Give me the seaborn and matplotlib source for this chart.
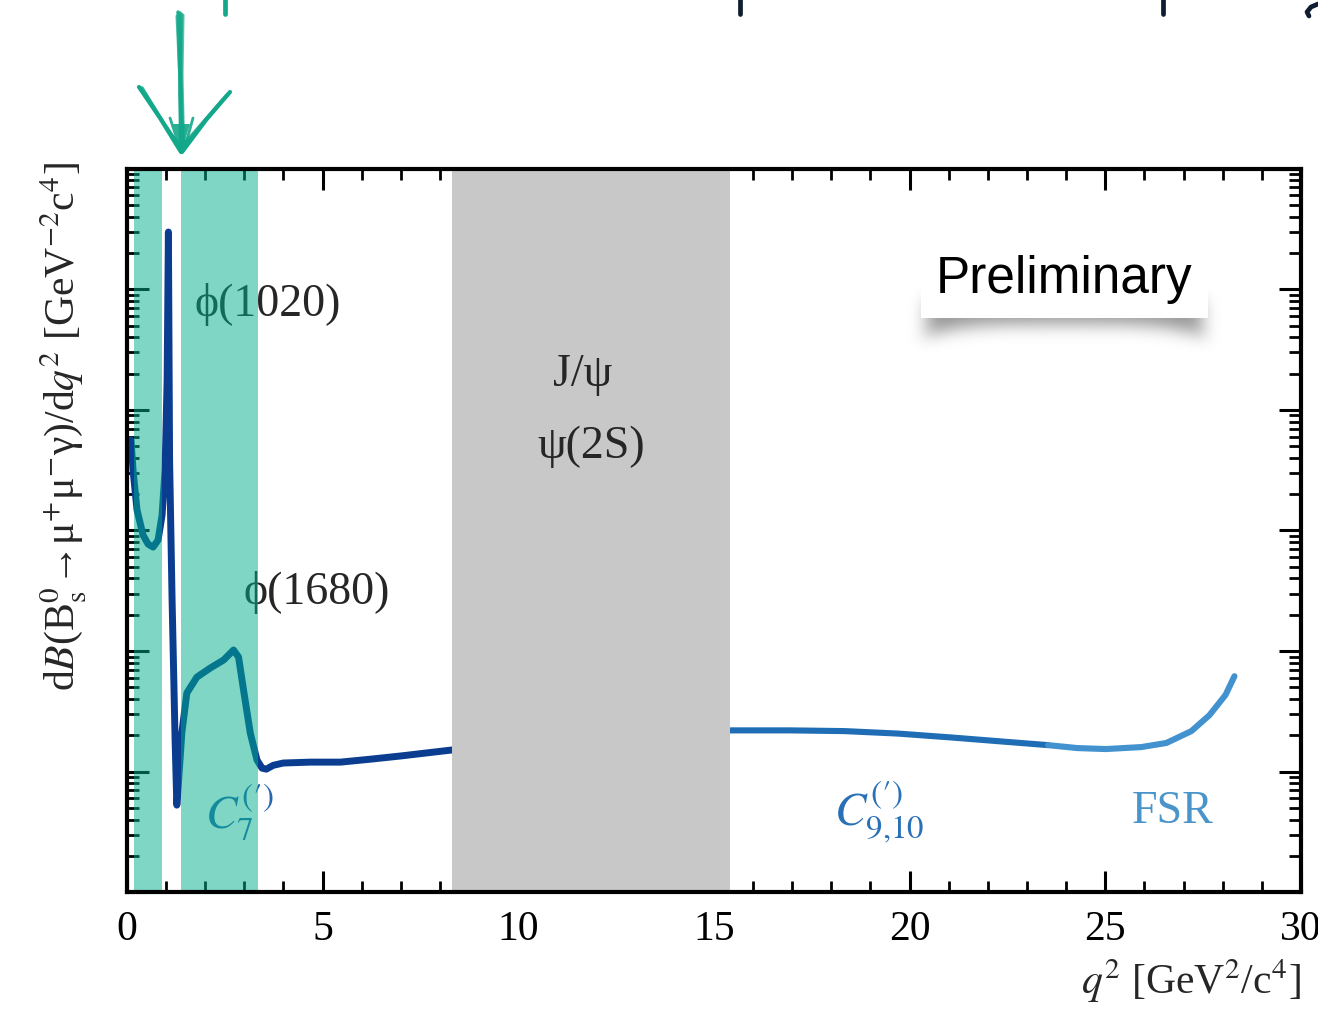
import math
import numpy as np
import pandas as pd
import seaborn as sns
import matplotlib
matplotlib.use("Agg")
import matplotlib.pyplot as plt
from matplotlib.lines import Line2D
from matplotlib.patches import Rectangle, Polygon
from matplotlib.ticker import MultipleLocator, LogLocator, NullFormatter

# ---------------- data ----------------
# low-q2 region: phi(1020) / phi(1680) resonances and C7 photon-pole tail
q2_low = [0.108, 0.159, 0.261, 0.415, 0.543, 0.671, 0.799, 0.901, 0.978, 1.030,
          1.063, 1.093, 1.157, 1.234, 1.278, 1.319, 1.406, 1.534, 1.790, 2.131,
          2.471, 2.727, 2.855, 2.983, 3.155, 3.326, 3.455, 3.565, 3.744, 4.000,
          4.690, 5.460, 6.230, 7.000, 8.280, 8.400]
rate_low = [5.62e-9, 3.17e-9, 1.48e-9, 9.16e-10, 7.71e-10, 7.28e-10, 8.32e-10, 1.34e-9, 3.17e-9, 1.77e-8,
            2.98e-7, 3.84e-9, 2.65e-10, 1.83e-11, 5.28e-12, 8.04e-12, 2.09e-11, 4.49e-11, 6.08e-11, 7.23e-11,
            8.42e-11, 1.02e-10, 8.92e-11, 4.75e-11, 2.09e-11, 1.25e-11, 1.07e-11, 1.05e-11, 1.13e-11, 1.18e-11,
            1.20e-11, 1.20e-11, 1.27e-11, 1.35e-11, 1.51e-11, 1.52e-11]

# high-q2 region: C9,10 dominated part
q2_c910 = [15.30, 15.41, 16.96, 18.34, 19.70, 21.08, 22.45, 23.54]
rate_c910 = [2.20e-11, 2.20e-11, 2.20e-11, 2.17e-11, 2.07e-11, 1.92e-11, 1.77e-11, 1.66e-11]

# endpoint region: final-state radiation
q2_fsr = [23.54, 24.28, 25.01, 25.92, 26.56, 27.20, 27.66, 28.07, 28.30]
rate_fsr = [1.66e-11, 1.57e-11, 1.54e-11, 1.60e-11, 1.73e-11, 2.17e-11, 2.94e-11, 4.32e-11, 6.19e-11]

# vetoed / highlighted q2 windows
teal_windows = [(0.19, 0.91), (1.38, 3.35)]
charmonium_window = (8.32, 15.40)

x_ticks = [0, 5, 10, 15, 20, 25, 30]

# ---------------- style ----------------
sns.set_style("ticks")
plt.rcParams["font.family"] = ["Liberation Serif", "DejaVu Serif"]
plt.rcParams["mathtext.fontset"] = "stix"

W, H = 1318, 1014
fig = plt.figure(figsize=(W / 100, H / 100), dpi=100)
fig.patch.set_facecolor("white")


def fx(px):
    return px / W


def fy(py):
    return 1 - py / H


ax = fig.add_axes([fx(126.8), fy(892.3), fx(1301) - fx(126.8), fy(168.6) - fy(892.3)])
ax.set_facecolor("white")

DARK = "#0a3d8f"
MID = "#1f6db4"
LIGHT = "#4292cf"
TEAL_BAND = (0.0, 0.686, 0.55)

segments = [
    (q2_low, rate_low, DARK, 5.0),
    (q2_c910, rate_c910, MID, 4.4),
    (q2_fsr, rate_fsr, LIGHT, 4.4),
]
for xs, ys, col, lw in segments:
    df = pd.DataFrame({"q2": xs, "rate": ys})
    sns.lineplot(data=df, x="q2", y="rate", ax=ax, color=col, linewidth=lw,
                 estimator=None, legend=False, zorder=2,
                 solid_joinstyle="round", solid_capstyle="round")

ax.set_yscale("log")
ax.set_xlim(0, 30)
ax.set_ylim(1e-12, 1e-6)

# bands
for lo, hi in teal_windows:
    ax.axvspan(lo, hi, color=TEAL_BAND, alpha=0.5, lw=0, zorder=3)
ax.axvspan(*charmonium_window, color="#c8c8c8", lw=0, zorder=2.2)

# ticks
ax.xaxis.set_major_locator(MultipleLocator(5))
ax.xaxis.set_minor_locator(MultipleLocator(1))
ax.set_xticks(x_ticks)
ax.set_xticklabels([str(t) for t in x_ticks])
ax.yaxis.set_major_locator(LogLocator(base=10, numticks=20))
ax.yaxis.set_minor_locator(LogLocator(base=10, subs=np.arange(2, 10) * 1.0, numticks=200))
ax.yaxis.set_major_formatter(NullFormatter())
ax.yaxis.set_minor_formatter(NullFormatter())
ax.tick_params(which="both", direction="in", top=True, right=True, colors="black")
ax.tick_params(axis="x", which="major", length=15, width=2.2, labelsize=30, pad=13)
ax.tick_params(axis="x", which="minor", length=8, width=2.0)
ax.tick_params(axis="y", which="major", length=16, width=2.2)
ax.tick_params(axis="y", which="minor", length=8.5, width=2.0)
for sp in ax.spines.values():
    sp.set_linewidth(3)
    sp.set_color("black")
    sp.set_zorder(5)

ax.set_xlabel(r"$q^2$ [GeV$^2$/c$^4$]", fontsize=30, loc="right", labelpad=6)
ax.set_ylabel(r"d$B$(B$^0_\mathrm{s}$→μ$^{+}$μ$^{-}$γ)/d$q^2$ [GeV$^{-2}$c$^4$]",
              fontsize=30, loc="top", labelpad=24)
ax.yaxis.label.set_position((0, 1.009))

# annotations
ax.text(1.72, 7.4e-8, "ϕ(1020)", fontsize=33, ha="left", va="center", zorder=2.8)
ax.text(2.98, 3.08e-10, "ϕ(1680)", fontsize=33, ha="left", va="center", zorder=2.8)
ax.text(11.65, 1.95e-8, "J/ψ", fontsize=33, ha="center", va="center", zorder=2.8)
ax.text(11.86, 4.92e-9, "ψ(2S)", fontsize=33, ha="center", va="center", zorder=2.8)
ax.text(2.0, 4.62e-12, r"$C_{7}^{(\prime)}$", fontsize=34, color="#2a66b0",
        ha="left", va="center", zorder=2.8)
ax.text(18.08, 4.62e-12, r"$C_{9{,}10}^{(\prime)}$", fontsize=34, color="#2a70b6",
        ha="left", va="center", zorder=2.8)
ax.text(26.72, 4.62e-12, "FSR", fontsize=33, color="#4a94cc",
        ha="center", va="center", zorder=2.8)

# "Preliminary" stamp with a soft, curled drop shadow
bx0, bx1, by0, by1 = 921, 1208, 237, 318
sx0, sx1, sy0, sy1 = 890, 1240, 280, 370
cols = np.arange(sx0, sx1) + 0.5
rows = np.arange(sy0, sy1) + 0.5
sig = 8.5
erf = np.vectorize(math.erf)
horiz = 0.5 * (erf((cols - (bx0 + 6)) / (sig * 1.414)) - erf((cols - (bx1 - 6)) / (sig * 1.414)))
xc, half = 0.5 * (bx0 + bx1), 0.5 * (bx1 - bx0)
depth = 324 + 14 * ((cols - xc) / half) ** 4
vert = 0.5 * (erf((rows[:, None] - 300) / (sig * 1.414)) - erf((rows[:, None] - depth[None, :]) / (sig * 1.414)))
alpha_map = 0.42 * horiz[None, :] * vert
rgba = np.zeros((len(rows), len(cols), 4))
rgba[..., 3] = np.clip(alpha_map, 0, 1)
fig.figimage(rgba, xo=sx0, yo=H - sy1, origin="upper", zorder=10)
fig.add_artist(Rectangle((fx(bx0), fy(by1)), (bx1 - bx0) / W, (by1 - by0) / H,
                         transform=fig.transFigure, facecolor="white", edgecolor="none", zorder=11))
fig.text(fx((bx0 + bx1) / 2), fy(279), "Preliminary", family="Liberation Sans",
         fontsize=37, color="black", ha="center", va="center", zorder=12)

# hand-drawn arrow pointing at the lowest q2 window
ARROW = "#13a88a"
strokes = [
    ([178, 180, 181], [12, 80, 148], 2.5, 0.9),
    ([180, 181, 183], [13, 85, 150], 2.5, 0.9),
    ([182, 180, 182], [14, 95, 146], 2.0, 0.8),
    ([176.5, 179, 180], [16, 70, 140], 1.5, 0.7),
    ([183.5, 182.5, 184], [15, 75, 142], 1.5, 0.7),
    ([139, 160, 181], [87, 118, 152], 3.0, 1.0),
    ([142, 163, 182], [88, 122, 150], 2.5, 0.9),
    ([145, 168, 183], [94, 130, 149], 2.0, 0.8),
    ([230, 206, 182], [92, 120, 152], 3.0, 1.0),
    ([227, 203, 181], [95, 123, 150], 2.5, 0.9),
    ([223, 196, 180], [99, 130, 148], 2.0, 0.8),
    ([170, 176, 182], [118, 136, 151], 2.0, 0.9),
    ([193, 188, 182], [118, 136, 151], 2.0, 0.9),
]
for xs, ys, lw, a in strokes:
    fig.add_artist(Line2D([fx(v) for v in xs], [fy(v) for v in ys], color=ARROW,
                          lw=lw, alpha=a, solid_capstyle="round", transform=fig.transFigure))
fig.add_artist(Polygon([(fx(173), fy(124)), (fx(190), fy(124)), (fx(182), fy(150))],
                       closed=True, facecolor=ARROW, edgecolor="none", alpha=0.9,
                       transform=fig.transFigure))

# descenders of the slide heading running off the top edge
for xp, col in [(225, "#12a98a"), (740, "#0e1e30"), (1163, "#0e1e30")]:
    fig.add_artist(Line2D([fx(xp), fx(xp)], [fy(-2), fy(14)], color=col, lw=3.4,
                          transform=fig.transFigure))
fig.add_artist(Line2D([fx(v) for v in [1318, 1311, 1307, 1309]],
                      [fy(v) for v in [4, 7, 12, 16]], color="#0e1e30", lw=3.4,
                      transform=fig.transFigure))

fig.savefig("out.png", dpi=100, facecolor="white")
